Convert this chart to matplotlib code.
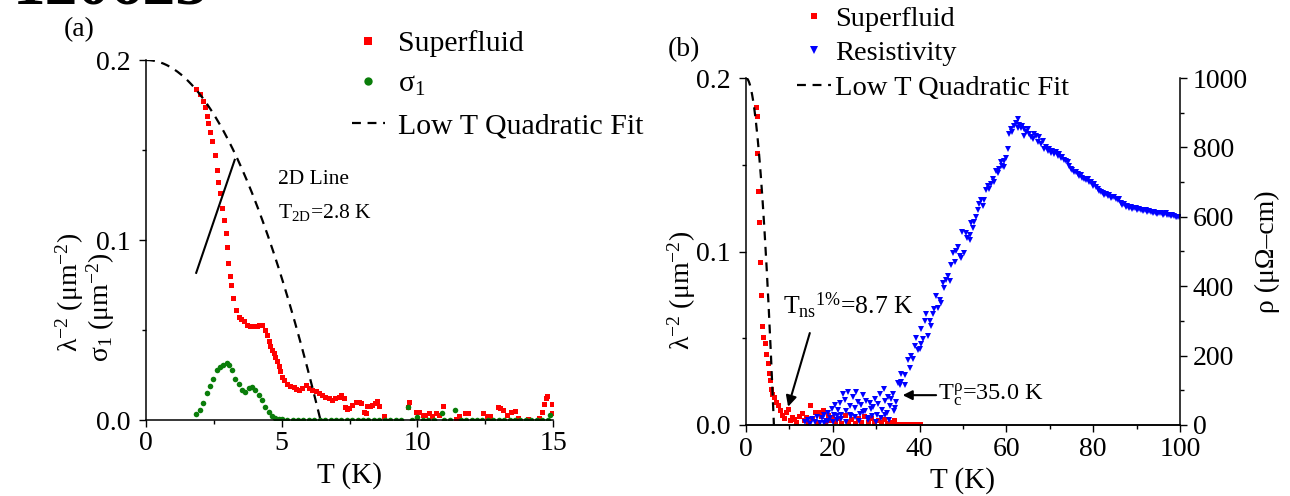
import matplotlib
matplotlib.use("Agg")
import matplotlib.pyplot as plt
from matplotlib.ticker import MultipleLocator, FixedLocator
import numpy as np

plt.rcParams['font.family'] = ['Liberation Serif', 'DejaVu Serif']
plt.rcParams['mathtext.fontset'] = 'custom'
plt.rcParams['mathtext.rm'] = 'Liberation Serif'
plt.rcParams['mathtext.it'] = 'Liberation Serif:italic'
plt.rcParams['mathtext.bf'] = 'Liberation Serif:bold'
plt.rcParams['mathtext.default'] = 'regular'

# ---------------- panel (a): superfluid density and sigma_1 vs T ----------------
sf_a_T = [1.86, 1.99, 2.11, 2.17, 2.23, 2.30, 2.36, 2.44, 2.54, 2.60, 2.67, 2.73,
          2.79, 2.89, 2.94, 3.00, 3.03, 3.08, 3.14, 3.22, 3.31, 3.41, 3.50, 3.60,
          3.72, 3.84, 3.96, 4.09, 4.18, 4.27, 4.39, 4.45, 4.52, 4.58, 4.64, 4.70,
          4.77, 4.83, 4.89, 4.95, 5.01, 5.10, 5.20, 5.32, 5.44, 5.54, 5.63, 5.75,
          5.88, 6.00, 6.12, 6.25, 6.37, 6.48, 6.60, 6.73, 6.86, 6.98, 7.10, 7.20,
          7.30, 7.35, 7.42, 7.48, 7.60, 7.73, 7.85, 7.91, 8.04, 8.10, 8.16, 8.25,
          8.34, 8.45, 8.53, 8.60, 8.78, 9.64, 9.70, 9.95, 10.05, 10.20, 10.30,
          10.44, 10.55, 10.69, 10.80, 10.94, 11.43, 11.55, 11.74, 11.85, 12.42,
          12.55, 12.67, 12.98, 13.05, 13.16, 13.30, 13.47, 13.60, 13.70, 14.09,
          14.50, 14.58, 14.67, 14.73, 14.79, 14.95, 14.98]
sf_a_val = [0.184, 0.181, 0.177, 0.174, 0.169, 0.165, 0.160, 0.155, 0.147, 0.139,
            0.132, 0.126, 0.118, 0.111, 0.104, 0.096, 0.087, 0.080, 0.075, 0.068,
            0.061, 0.057, 0.056, 0.055, 0.053, 0.052, 0.052, 0.052, 0.053, 0.053,
            0.050, 0.047, 0.044, 0.041, 0.039, 0.037, 0.035, 0.033, 0.030, 0.027,
            0.024, 0.022, 0.020, 0.019, 0.0185, 0.0175, 0.0167, 0.018, 0.0194,
            0.018, 0.0167, 0.016, 0.0148, 0.014, 0.013, 0.012, 0.011, 0.012, 0.013,
            0.0139, 0.012, 0.0074, 0.006, 0.0065, 0.0083, 0.010, 0.010, 0.0093,
            0.0046, 0.004, 0.0078, 0.008, 0.0083, 0.0095, 0.0107, 0.008, 0.0022,
            0.0074, 0.010, 0.0046, 0.0046, 0.0028, 0.0028, 0.004, 0.002, 0.004,
            0.0028, 0.008, 0.0005, 0.002, 0.004, 0.004, 0.004, 0.002, 0.0025,
            0.0072, 0.0065, 0.0056, 0.003, 0.0046, 0.0049, 0.001, 0.0005, 0.001,
            0.0046, 0.0089, 0.012, 0.0135, 0.0089, 0.004]

sig_T = [1.86, 1.99, 2.11, 2.23, 2.36, 2.48, 2.60, 2.73, 2.85, 2.98, 3.06, 3.16,
         3.28, 3.41, 3.53, 3.65, 3.78, 3.90, 4.02, 4.15, 4.27, 4.40, 4.52, 4.64,
         4.77, 4.90, 5.0, 5.2, 5.4, 5.6, 5.8, 6.0, 6.2, 6.4, 6.6, 6.8, 7.0, 7.2,
         7.4, 7.6, 7.8, 8.0, 8.2, 8.4, 8.6, 8.8, 9.0, 9.2, 9.4, 9.64, 9.8, 10.0,
         10.2, 10.4, 10.6, 10.9, 11.0, 11.2, 11.37, 11.6, 11.8, 12.0, 12.2, 12.4,
         12.6, 12.8, 13.0, 13.2, 13.4, 13.6, 13.8, 14.0, 14.2, 14.4, 14.6, 14.8,
         14.9]
sig_val = [0.0033, 0.0056, 0.0093, 0.0148, 0.019, 0.023, 0.028, 0.0296, 0.0306,
           0.0315, 0.0306, 0.028, 0.023, 0.020, 0.0167, 0.0157, 0.0176, 0.0185,
           0.0167, 0.0139, 0.011, 0.0074, 0.0046, 0.0024, 0.0013, 0.0005, 0.0003,
           0.0002, 0.0002, 0.0002, 0.0002, 0.0002, 0.0002, 0.0002, 0.0002, 0.0002,
           0.0002, 0.0002, 0.0002, 0.0002, 0.0002, 0.0002, 0.0002, 0.0002, 0.0002,
           0.0002, 0.0002, 0.0002, 0.0002, 0.0074, 0.0002, 0.0015, 0.0002, 0.0002,
           0.0002, 0.004, 0.0002, 0.0002, 0.0056, 0.0002, 0.0002, 0.0002, 0.0002,
           0.0002, 0.0002, 0.0002, 0.0002, 0.0002, 0.0002, 0.0002, 0.0002, 0.0002,
           0.0002, 0.0002, 0.0002, 0.0002, 0.003]

# low-T quadratic fit  lambda^-2 = A (1 - (T/Tc)^2)
fit_A = 0.2
fit_Tc = 6.43

# 2D (BKT) line: lambda^-2 = slope * T
line2d_slope = 0.0442
line2d_T = [1.85, 3.27]

# ---------------- panel (b): superfluid + resistivity to 100 K ----------------
sf_b_T = [2.3, 2.6, 2.5, 2.8, 3.0, 3.2, 3.4, 3.6, 4.0, 4.3, 4.7, 5.0, 5.3, 5.5,
          5.7, 6.0, 6.4, 6.8, 7.3, 7.8, 8.3, 8.8, 9.3, 9.7, 10.2, 10.6, 11.1,
          11.6, 12.2, 12.8, 13.3, 13.8, 14.3, 14.7, 15.3, 15.8, 16.3, 16.8, 17.3,
          17.8, 18.3, 18.8, 19.3, 19.8, 20.5, 21.2, 22.0, 22.7, 23.5, 24.3, 25.0,
          25.8, 26.5, 27.3, 28.0, 28.8, 29.5, 30.3, 31.0, 31.8, 32.5, 33.3, 34.0,
          34.6, 35.0, 35.3, 35.6, 35.9, 36.2, 36.5, 36.8, 37.1, 37.4, 37.7, 38.0,
          38.3, 38.6, 38.9, 39.2, 39.5, 39.8, 40.0]
sf_b_val = [0.183, 0.178, 0.157, 0.135, 0.117, 0.094, 0.075, 0.057, 0.051, 0.047,
            0.041, 0.036, 0.030, 0.026, 0.021, 0.018, 0.016, 0.013, 0.0115,
            0.0086, 0.006, 0.004, 0.0075, 0.0095, 0.003, 0.0048, 0.0035, 0.002,
            0.005, 0.0067, 0.003, 0.0045, 0.002, 0.0115, 0.004, 0.0075, 0.002,
            0.0077, 0.005, 0.0086, 0.002, 0.006, 0.003, 0.0048, 0.0025, 0.004,
            0.001, 0.0055, 0.002, 0.0035, 0.001, 0.004, 0.002, 0.005, 0.0015,
            0.0038, 0.001, 0.003, 0.0015, 0.0035, 0.001, 0.002, 0.003, 0.0006,
            0.0005, 0.0005, 0.0005, 0.0005, 0.0005, 0.0005, 0.0005, 0.0005,
            0.0005, 0.0005, 0.0005, 0.0005, 0.0005, 0.0005, 0.0005, 0.0005,
            0.0005, 0.0005]

rho_T = [13.6, 14.2, 14.8, 15.3, 15.9, 16.4, 17.0, 17.5, 17.9, 18.4, 18.9, 19.3,
         19.8, 20.2, 20.5, 20.9, 21.3, 21.6, 22.0, 22.4, 22.8, 23.1, 23.5, 23.9,
         24.3, 24.6, 25.0, 25.4, 25.8, 26.2, 26.6, 27.0, 27.4, 27.7, 28.1, 28.5,
         28.9, 29.3, 29.7, 30.1, 30.5, 30.9, 31.3, 31.7, 32.0, 32.4, 32.8, 33.2,
         33.5, 33.9, 34.3, 34.6, 35.0, 35.4,
         18.0, 19.0, 20.0, 21.0, 22.0, 23.0, 24.0, 25.0, 26.0, 27.0, 28.0, 29.0,
         30.0, 31.0, 32.0, 33.0, 34.0,
         35.8, 35.8, 36.6, 36.6, 37.3, 37.7, 38.1, 38.5, 38.9, 39.2, 39.6, 40.0,
         40.4, 40.4, 40.8, 41.2, 41.5, 41.9, 42.3, 42.7, 43.0, 43.4, 43.8, 44.2,
         44.6, 44.9, 45.4, 45.7, 46.1, 46.5, 46.9, 47.3, 47.7, 48.1, 48.4, 48.8,
         49.2, 49.6, 49.8, 50.3, 50.6, 51.0, 51.5, 51.5, 51.9, 52.3, 52.6, 53.0,
         53.4, 53.8, 54.2, 54.5, 54.9, 55.3, 55.7, 56.1, 56.5, 56.9, 57.2, 57.6,
         58.0, 58.4, 58.8, 59.1, 59.5, 59.5, 59.9, 60.3, 60.7, 61.1, 61.4, 61.8,
         62.2, 62.6, 62.6, 63.0,
         63.4, 63.7, 64.1, 64.1, 64.5, 64.9, 65.3, 65.6, 66.1, 66.4, 66.8, 67.2,
         67.6, 68.0, 68.4, 68.7, 69.1, 69.5, 69.9, 70.2, 70.6, 71.0, 71.4, 71.8,
         72.2, 72.5, 72.9, 73.3, 73.7, 74.1, 74.5, 74.9, 75.2, 75.6, 76.0, 76.4,
         76.8, 77.2, 77.5, 77.9, 78.3, 78.7, 79.1, 79.5, 79.9, 80.2, 80.6, 81.0,
         81.4, 81.8, 82.2, 82.5, 82.9, 83.3, 83.7, 84.1, 84.4, 84.8, 85.2, 85.6,
         86.0, 86.3, 86.7, 87.1, 87.5, 87.9, 88.3, 88.7, 89.0, 89.4, 89.8, 90.2,
         90.6, 91.0, 91.4, 91.7, 92.1, 92.5, 92.9, 93.3, 93.7, 94.0, 94.4, 94.8,
         95.2, 95.6, 96.0, 96.3, 96.7, 97.1, 97.5, 97.9, 98.2, 98.6, 99.0, 99.4,
         99.8]
rho_val = [8, 14, 4, 18, 10, 22, 6, 19, 30, 12, 35, 20,
           45, 28, 57, 15, 43, 62, 30, 90, 71, 40, 95, 55,
           25, 81, 48, 95, 67, 33, 58, 86, 40, 70, 20, 62,
           45, 52, 75, 30, 60, 88, 42, 105, 70, 35, 81, 55,
           74, 90, 50, 67, 120, 114,
           5, 12, 8, 25, 18, 10, 30, 22, 12, 38, 15, 26,
           10, 20, 28, 14, 40,
           148, 124, 143, 114, 186, 165, 200, 190, 229, 252, 215, 219,
           233, 276, 248, 300, 319, 257, 300, 286, 320, 333, 371, 338,
           360, 352, 410, 395, 419, 430, 414, 462, 495, 470, 500, 514,
           486, 481, 557, 495, 552, 540, 548, 533, 581, 567, 586, 600,
           619, 638, 648, 630, 648, 676, 690, 680, 695, 710, 700, 733,
           725, 738, 757, 745, 762, 743, 770, 795, 838, 852, 845, 862,
           870, 881, 857, 865,
           857, 862, 852, 833, 845, 852, 838, 830, 824, 838, 833, 815,
           829, 810, 819, 795, 800, 790, 795, 785, 790, 780, 786, 776,
           781, 770, 771, 765, 760, 757, 745, 738, 735, 730, 729, 722,
           719, 720, 712, 710, 705, 710, 700, 700, 690, 695, 685, 681,
           675, 671, 668, 662, 667, 660, 662, 655, 658, 657, 650, 648,
           652, 640, 633, 636, 629, 631, 626, 629, 622, 625, 624, 620,
           622, 619, 616, 620, 619, 615, 617, 614, 611, 613, 612, 608,
           611, 610, 606, 609, 610, 604, 605, 603, 606, 602, 600, 598,
           600]

# ---------------- styling ----------------
RED = '#ff0000'
GREEN = '#0a7d0a'
BLUE = '#0000ff'
LW_SPINE = 1.1
DASH = (4, 3)


def style_ticks(ax):
    ax.tick_params(which='major', direction='out', length=5, width=1.0,
                   labelsize=20, pad=3)
    ax.tick_params(which='minor', direction='out', length=2.6, width=1.0)
    for s in ax.spines.values():
        s.set_linewidth(LW_SPINE)


fig = plt.figure(figsize=(12.9, 4.96), dpi=100)
W, H = 1290.0, 496.0

# panel (a)
axa = fig.add_axes([146 / W, 76 / H, 407 / W, 360 / H])
axa.plot(sf_a_T, sf_a_val, ls='none', marker='s', ms=3.6, mew=0, color=RED,
         label='Superfluid')
axa.plot(sig_T, sig_val, ls='none', marker='o', ms=4.0, mew=0, color=GREEN,
         label='σ$_1$')
Tf = np.linspace(0, fit_Tc, 200)
axa.plot(Tf, fit_A * (1 - (Tf / fit_Tc) ** 2), color='black', lw=1.6,
         dashes=DASH, label='Low T Quadratic Fit')
axa.plot(line2d_T, [line2d_slope * t for t in line2d_T], color='black', lw=1.5)
axa.set_xlim(0, 15)
axa.set_ylim(0, 0.2)
axa.xaxis.set_major_locator(FixedLocator([0, 5, 10, 15]))
axa.xaxis.set_minor_locator(MultipleLocator(2.5))
axa.yaxis.set_major_locator(FixedLocator([0, 0.1, 0.2]))
axa.yaxis.set_minor_locator(MultipleLocator(0.05))
axa.set_yticklabels(['0.0', '0.1', '0.2'])
axa.spines['top'].set_visible(False)
axa.spines['right'].set_visible(False)
style_ticks(axa)
axa.tick_params(axis='y', pad=6)

axa.text(4.88, 0.131, '2D Line', fontsize=15.5)
axa.text(4.88, 0.112, 'T$_{2D}$=2.8 K', fontsize=15.5)

axa.set_xlabel('T (K)', fontsize=21, labelpad=4)
fig.text(70 / W, 1 - 292 / H, 'λ$^{-2}$ (μm$^{-2}$)', rotation=90,
         ha='center', va='center', fontsize=20)
fig.text(101 / W, 1 - 307 / H, 'σ$_1$ (μm$^{-2}$)', rotation=90,
         ha='center', va='center', fontsize=20)

axa.legend(loc='upper left', bbox_to_anchor=(352 / W, 1 - 30 / H),
           bbox_transform=fig.transFigure, frameon=False, fontsize=21.5,
           handlelength=1.1, handletextpad=0.45, labelspacing=0.47,
           markerscale=1.5, borderpad=0, borderaxespad=0)

fig.text(79 / W, 1 - 30 / H, '(a)', ha='center', va='center', fontsize=20)
fig.text(13 / W, 1 - 4 / H, '120625', ha='left', va='baseline', fontsize=47,
         fontweight='bold')

# panel (b)
axb = fig.add_axes([746 / W, 71 / H, 434 / W, 347 / H])
axr = axb.twinx()
h_sf, = axb.plot(sf_b_T, sf_b_val, ls='none', marker='s', ms=3.6, mew=0,
                 color=RED, label='Superfluid')
Tf2 = np.linspace(0, fit_Tc, 200)
h_fit, = axb.plot(Tf2, fit_A * (1 - (Tf2 / fit_Tc) ** 2), color='black',
                  lw=1.6, dashes=DASH, label='Low T Quadratic Fit')
h_rho, = axr.plot(rho_T, rho_val, ls='none', marker='v', ms=4.8, mew=0,
                  color=BLUE, label='Resistivity')
axb.set_xlim(0, 100)
axb.set_ylim(0, 0.2)
axr.set_ylim(0, 1000)
axb.xaxis.set_major_locator(MultipleLocator(20))
axb.xaxis.set_minor_locator(MultipleLocator(10))
axb.yaxis.set_major_locator(FixedLocator([0, 0.1, 0.2]))
axb.yaxis.set_minor_locator(MultipleLocator(0.05))
axb.set_yticklabels(['0.0', '0.1', '0.2'])
axr.yaxis.set_major_locator(MultipleLocator(200))
axr.yaxis.set_minor_locator(MultipleLocator(100))
for ax in (axb, axr):
    ax.spines['top'].set_visible(False)
    style_ticks(ax)
axb.spines['right'].set_visible(False)
axr.spines['left'].set_visible(False)
axb.tick_params(axis='y', pad=6)
axr.tick_params(axis='y', pad=4)
axb.tick_params(axis='x', pad=4)

axb.set_xlabel('T (K)', fontsize=21, labelpad=3)
fig.text(682 / W, 1 - 290 / H, 'λ$^{-2}$ (μm$^{-2}$)', rotation=90,
         ha='center', va='center', fontsize=20)
fig.text(1267 / W, 1 - 252 / H, 'ρ (μΩ–cm)', rotation=90,
         ha='center', va='center', fontsize=20)
fig.text(684 / W, 1 - 50 / H, '(b)', ha='center', va='center', fontsize=20)

axr.annotate('', xy=(9.7, 0.0105), xytext=(14.7, 0.053),
             xycoords=axb.transData, textcoords=axb.transData,
             arrowprops=dict(arrowstyle='-|>', color='black', lw=1.5,
                             mutation_scale=16, shrinkA=0, shrinkB=0))
axr.text(8.6, 0.064, 'T$_{ns}$$^{1\\%}$=8.7 K', transform=axb.transData,
         fontsize=18.5, ha='left', va='baseline')
axr.annotate('', xy=(36.1, 86), xytext=(43.8, 86),
             arrowprops=dict(arrowstyle='-|>', color='black', lw=1.5,
                             mutation_scale=14, shrinkA=0, shrinkB=0))
axr.text(44.2, 71, 'T$_c^{\\rho}$=35.0 K', fontsize=17.5, ha='left',
         va='baseline')

axr.legend(handles=[h_sf, h_rho, h_fit], loc='upper left',
           bbox_to_anchor=(797 / W, 1 - 6 / H), bbox_transform=fig.transFigure,
           frameon=False, fontsize=20.5, handlelength=1.2, handletextpad=0.15,
           labelspacing=0.3, markerscale=1.2, borderpad=0, borderaxespad=0)

fig.savefig('out.png', dpi=100)
